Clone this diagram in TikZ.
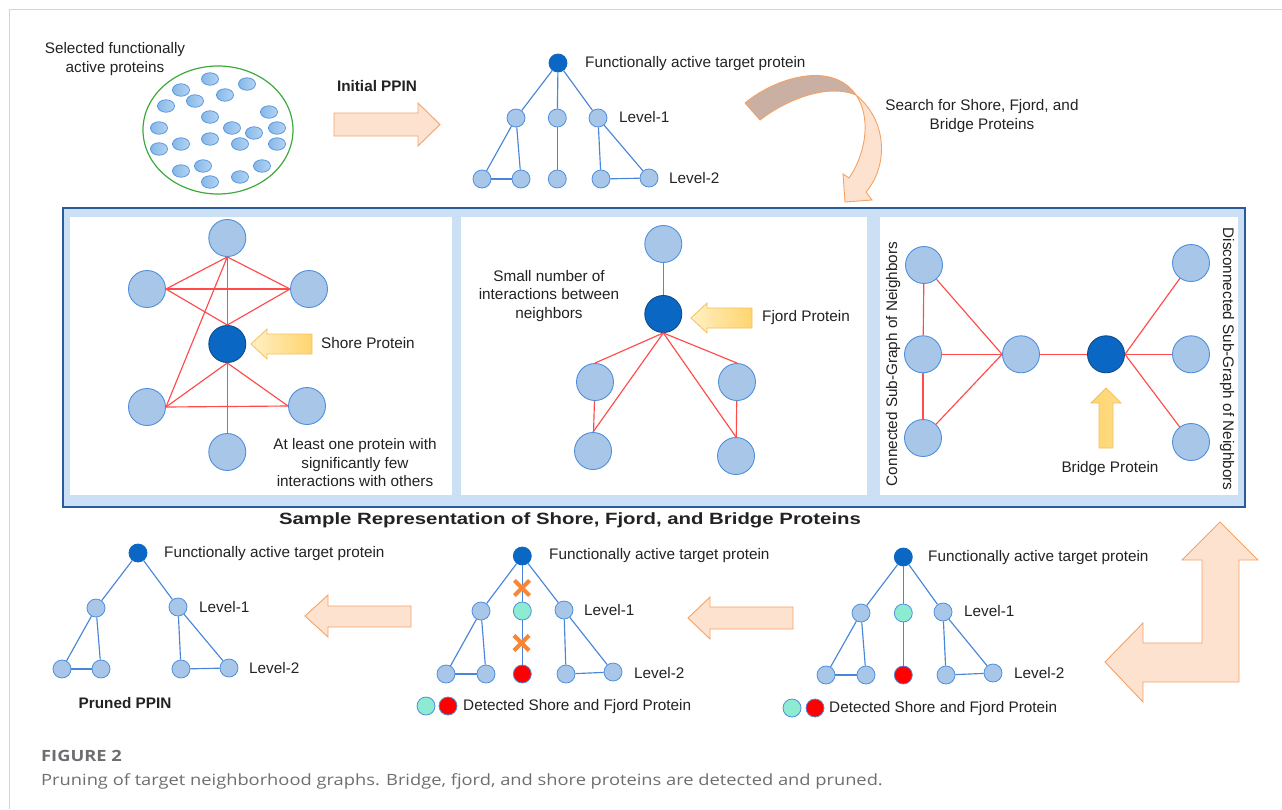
\documentclass[tikz,border=0pt]{standalone}
\usepackage{fontspec}
\setmainfont{Liberation Sans}
\newfontfamily\capfont[FakeStretch=1.18]{Open Sans}
\newfontfamily\widebold[FakeStretch=1.25]{Liberation Sans}
\usetikzlibrary{shapes.geometric,shapes.misc}
\definecolor{nodefill}{HTML}{A8C6E8}
\definecolor{nodeedge}{HTML}{4F8FDC}
\definecolor{darkfill}{HTML}{0A68C4}
\definecolor{darkedge}{HTML}{0C4A8A}
\definecolor{edgeblue}{HTML}{4A86D8}
\definecolor{edgered}{HTML}{FF4B4B}
\definecolor{peach}{HTML}{FDE2D0}
\definecolor{peachedge}{HTML}{F7A265}
\definecolor{brownish}{HTML}{C9B0A3}
\definecolor{yedge}{HTML}{F2C260}
\definecolor{ylight}{HTML}{FFF0C4}
\definecolor{ydark}{HTML}{FFD46E}
\definecolor{boxfill}{HTML}{CBE0F5}
\definecolor{boxedge}{HTML}{2A5A9A}
\definecolor{tealfill}{HTML}{8CEBD0}
\definecolor{ellgreen}{HTML}{3DAA3D}
\definecolor{smallL}{HTML}{86B8E8}
\definecolor{smallR}{HTML}{B4D3F2}
\definecolor{xorange}{HTML}{FA8532}
\definecolor{txt}{HTML}{222222}
\definecolor{capgray}{HTML}{6D6E71}
\definecolor{frame}{HTML}{D4D4D4}
\begin{document}
\begin{tikzpicture}[x=1pt,y=-1pt,
  lnode/.style={circle,draw=nodeedge,fill=nodefill,minimum size=18pt,inner sep=0pt,line width=0.8pt},
  dnode/.style={lnode,fill=darkfill,draw=darkfill},
  tnode/.style={lnode,fill=tealfill},
  rnode/.style={lnode,fill=red},
  bnode/.style={circle,draw=nodeedge,fill=nodefill,minimum size=37pt,inner sep=0pt,line width=0.9pt},
  bdark/.style={bnode,fill=darkfill,draw=darkedge},
  sprot/.style={ellipse,draw=nodeedge,left color=smallL,right color=smallR,minimum width=17pt,minimum height=12.5pt,inner sep=0pt,line width=0.7pt},
  tedge/.style={draw=edgeblue,line width=1.15pt},
  redge/.style={draw=edgered,line width=1.15pt},
  lbl/.style={font=\fontsize{15.3}{18}\selectfont,text=txt,inner sep=0pt,text height=11pt,text depth=3pt},
  blbl/.style={lbl,font=\fontsize{15.3}{18}\selectfont\bfseries},
  mlbl/.style={font=\fontsize{15.3}{18.5}\selectfont,text=txt,inner sep=0pt,align=center},
  barrow/.style={fill=peach,draw=peachedge,line width=0.9pt,line join=miter},
  yarrow/.style={draw=yedge,line width=0.8pt,left color=ylight,right color=ydark},
  xmk/.style={cross out,draw=xorange,line width=4.2pt,minimum size=11pt,inner sep=0pt}
]
\useasboundingbox (0,0) rectangle (1282,809);
% page frame lines
\draw[frame,line width=1pt] (9,809) -- (9,9) -- (1282,9);

% ---------------- top row ----------------
\node[mlbl] (seltxt) at (115,59) {Selected functionally\\active proteins};
\draw[ellgreen,line width=1.2pt] (218,130) ellipse [x radius=75, y radius=64];
\foreach \i/\p in {1/{(210,79)},2/{(247,84)},3/{(181,90)},4/{(195,101)},5/{(225,95)},6/{(166,106)},7/{(269,112)},8/{(210,117)},9/{(159,128)},10/{(232,128)},11/{(254,133)},12/{(277,128)},13/{(210,139)},14/{(181,144)},15/{(240,144)},16/{(277,144)},17/{(159,149)},18/{(203,166)},19/{(262,166)},20/{(181,171)},21/{(240,177)},22/{(210,182)}}
  \node[sprot] (sp\i) at \p {};

\node[blbl] (initppin) at (377,87) {Initial PPIN};
\draw[barrow] (334,113) -- (418,113) -- (418,103) -- (440,124.5) -- (418,146) -- (418,136) -- (334,136) -- cycle;

% top tree
\node[dnode] (ar) at (558,63) {};
\node[lnode] (a1) at (516,118) {};
\node[lnode] (a2) at (557.3,118) {};
\node[lnode] (a3) at (598,118) {};
\node[lnode] (b1) at (482,179) {};
\node[lnode] (b2) at (521,179) {};
\node[lnode] (b3) at (557.3,179) {};
\node[lnode] (b4) at (601,179) {};
\node[lnode] (b5) at (649,178) {};
\draw[tedge] (ar) -- (a1); \draw[tedge] (ar) -- (a2); \draw[tedge] (ar) -- (a3);
\draw[tedge] (a1) -- (b1); \draw[tedge] (a1) -- (b2); \draw[tedge] (a2) -- (b3);
\draw[tedge] (a3) -- (b4); \draw[tedge] (a3) -- (b5);
\draw[tedge] (b1) -- (b2); \draw[tedge] (b4) -- (b5);
\node[lbl,anchor=west] (atxt) at (585,63) {Functionally active target protein};
\node[lbl,anchor=west] (al1) at (619,118) {Level-1};
\node[lbl,anchor=west] (al2) at (669,179) {Level-2};

% curved arrow
\fill[brownish,draw=peachedge,line width=0.9pt,line join=round]
  (745,103) .. controls (775,78) and (832,60) .. (856,95)
  .. controls (830,84) and (790,97) .. (760,120) -- cycle;
\fill[peach,draw=peachedge,line width=0.9pt,line join=miter]
  (856,95) .. controls (887,120) and (889,165) .. (866,192)
  -- (872,200) -- (845,202) -- (843,174) -- (849,178)
  .. controls (868,150) and (870,115) .. (856,95) -- cycle;
\node[mlbl] (searchtxt) at (982,116) {Search for Shore, Fjord, and\\Bridge Proteins};

% ---------------- middle box ----------------
\draw[boxedge,fill=boxfill,line width=1.3pt] (63,208) rectangle (1245,507);
\fill[white] (70,217) rectangle (452,495);
\fill[white] (461,217) rectangle (867,495);
\fill[white] (880,217) rectangle (1238,495);

% panel 1 (shore)
\node[bnode] (p1t) at (227.3,238) {};
\node[bnode] (p1ul) at (147,289) {};
\node[bnode] (p1ur) at (309,289) {};
\node[bdark] (p1c) at (227.3,344) {};
\node[bnode] (p1ll) at (147,407) {};
\node[bnode] (p1lr) at (307,406) {};
\node[bnode] (p1b) at (227.3,452) {};
\draw[redge] (p1t.south) -- (p1ul.east);
\draw[redge] (p1t.south) -- (p1ur.west);
\draw[redge] (p1t.south) -- (p1c.north);
\draw[redge] (p1t.south) -- (p1ll.east);
\draw[redge] (p1ul.east) -- (p1ur.west);
\draw[redge] (p1ul.east) -- (p1c.north);
\draw[redge] (p1ur.west) -- (p1c.north);
\draw[redge] (p1c.south) -- (p1ll.east);
\draw[redge] (p1c.south) -- (p1lr.west);
\draw[redge] (p1ll.east) -- (p1lr.west);
\draw[redge] (p1c.south) -- (p1b.north);
\draw[yarrow] (251,344) -- (267,329) -- (267,334) -- (312,334) -- (312,354) -- (267,354) -- (267,359) -- cycle;
\node[lbl,anchor=west] (shoretxt) at (321,344) {Shore Protein};
\node[mlbl] (atleast) at (355,463) {At least one protein with\\significantly few\\interactions with others};

% panel 2 (fjord)
\node[bnode] (p2t) at (663.3,244) {};
\node[bdark] (p2c) at (663.3,314) {};
\node[bnode] (p2ml) at (595,382) {};
\node[bnode] (p2mr) at (737,382) {};
\node[bnode] (p2bl) at (593,451) {};
\node[bnode] (p2br) at (736,456) {};
\draw[redge] (p2t) -- (p2c);
\draw[redge] (p2c.south) -- (p2ml.north);
\draw[redge] (p2c.south) -- (p2bl.north);
\draw[redge] (p2c.south) -- (p2mr.north);
\draw[redge] (p2c.south) -- (p2br.north);
\draw[redge] (p2ml) -- (p2bl);
\draw[redge] (p2mr) -- (p2br);
\draw[yarrow] (691,318) -- (707,303) -- (707,308) -- (752,308) -- (752,328) -- (707,328) -- (707,333) -- cycle;
\node[lbl,anchor=west] (fjordtxt) at (762,317) {Fjord Protein};
\node[mlbl] (smallnum) at (549,296) {Small number of\\interactions between\\neighbors};

% panel 3 (bridge)
\node[bnode] (p3lt) at (924,265) {};
\node[bnode] (p3lm) at (923,354.3) {};
\node[bnode] (p3lb) at (923,438) {};
\node[bnode] (p3m) at (1021,354.3) {};
\node[bdark] (p3b) at (1106,354.3) {};
\node[bnode] (p3rt) at (1191,263) {};
\node[bnode] (p3rm) at (1191,354.3) {};
\node[bnode] (p3rb) at (1191,442) {};
\draw[redge] (p3lt) -- (p3lm);
\draw[redge] (p3lm) -- (p3lb);
\draw[redge] (p3lt) -- (p3m.west);
\draw[redge] (p3lm.east) -- (p3m.west);
\draw[redge] (p3lb) -- (p3m.west);
\draw[redge] (p3m) -- (p3b);
\draw[redge] (p3b.east) -- (p3rt);
\draw[redge] (p3b.east) -- (p3rm);
\draw[redge] (p3b.east) -- (p3rb);
\draw[yarrow,left color=ydark,right color=ydark!70!ylight] (1106,388) -- (1121,403) -- (1113,403) -- (1113,448) -- (1099,448) -- (1099,403) -- (1091,403) -- cycle;
\node[lbl] (bridgetxt) at (1110,468) {Bridge Protein};
\node[lbl,rotate=90] (conntxt) at (893,364) {Connected Sub-Graph of Neighbors};
\node[lbl,rotate=-90] (disctxt) at (1227,359) {Disconnected Sub-Graph of Neighbors};

\node[lbl,font=\widebold\fontsize{16.3}{19}\selectfont\bfseries] (sampletxt) at (570,520) {Sample Representation of Shore, Fjord, and Bridge Proteins};

% ---------------- bottom row ----------------
% right tree (detected)
\node[dnode] (rr) at (903.3,557) {};
\node[lnode] (r1) at (861,613) {};
\node[tnode] (r2) at (903.3,613) {};
\node[lnode] (r3) at (943,612) {};
\node[lnode] (s1) at (826,675) {};
\node[lnode] (s2) at (866,675) {};
\node[rnode] (s3) at (903.3,675) {};
\node[lnode] (s4) at (946,675) {};
\node[lnode] (s5) at (993,673) {};
\draw[tedge] (rr) -- (r1); \draw[tedge] (rr) -- (r2); \draw[tedge] (rr) -- (r3);
\draw[tedge] (r1) -- (s1); \draw[tedge] (r1) -- (s2); \draw[tedge] (r2) -- (s3);
\draw[tedge] (r3) -- (s4); \draw[tedge] (r3) -- (s5);
\draw[tedge] (s1) -- (s2); \draw[tedge] (s4) -- (s5);
\node[lbl,anchor=west] (rtxt) at (928,557) {Functionally active target protein};
\node[lbl,anchor=west] (rl1) at (964,612) {Level-1};
\node[lbl,anchor=west] (rl2) at (1014,674) {Level-2};
\node[tnode] (rlegt) at (792,708) {};
\node[rnode] (rlegr) at (815,708) {};
\node[lbl,anchor=west] (rlegtxt) at (829,708) {Detected Shore and Fjord Protein};

% L-shaped arrow
\draw[barrow] (1220,522) -- (1258,560) -- (1239,560) -- (1239,682) -- (1143,682) -- (1143,702) -- (1105,662) -- (1143,623) -- (1143,643) -- (1202,643) -- (1202,560) -- (1182,560) -- cycle;

% middle tree (pruning)
\node[dnode] (mr) at (522.3,556) {};
\node[lnode] (m1) at (481,611) {};
\node[tnode] (m2) at (522.3,611) {};
\node[lnode] (m3) at (564,610) {};
\node[lnode] (n1) at (446,674) {};
\node[lnode] (n2) at (486,674) {};
\node[rnode] (n3) at (522.3,674) {};
\node[lnode] (n4) at (566,674) {};
\node[lnode] (n5) at (613,672) {};
\draw[tedge] (mr) -- (m1); \draw[tedge] (mr) -- (m2); \draw[tedge] (mr) -- (m3);
\draw[tedge] (m1) -- (n1); \draw[tedge] (m1) -- (n2); \draw[tedge] (m2) -- (n3);
\draw[tedge] (m3) -- (n4); \draw[tedge] (m3) -- (n5);
\draw[tedge] (n1) -- (n2); \draw[tedge] (n4) -- (n5);
\node[xmk] (x1) at (522,588) {};
\node[xmk] (x2) at (521.5,643) {};
\node[lbl,anchor=west] (mtxt) at (549,555) {Functionally active target protein};
\node[lbl,anchor=west] (ml1) at (584,611) {Level-1};
\node[lbl,anchor=west] (ml2) at (634,674) {Level-2};
\node[tnode] (mlegt) at (426,706) {};
\node[rnode] (mlegr) at (448,706) {};
\node[lbl,anchor=west] (mlegtxt) at (463,706) {Detected Shore and Fjord Protein};

\draw[barrow] (688,618) -- (710,597) -- (710,607) -- (793,607) -- (793,629) -- (710,629) -- (710,639) -- cycle;

% left tree (pruned)
\node[dnode] (lr) at (138,553) {};
\node[lnode] (l1) at (96,608) {};
\node[lnode] (l2) at (178,607) {};
\node[lnode] (k1) at (62,669) {};
\node[lnode] (k2) at (101,669) {};
\node[lnode] (k3) at (181,669) {};
\node[lnode] (k4) at (229,668) {};
\draw[tedge] (lr) -- (l1); \draw[tedge] (lr) -- (l2);
\draw[tedge] (l1) -- (k1); \draw[tedge] (l1) -- (k2);
\draw[tedge] (l2) -- (k3); \draw[tedge] (l2) -- (k4);
\draw[tedge] (k1) -- (k2); \draw[tedge] (k3) -- (k4);
\node[lbl,anchor=west] (ltxt) at (164,553) {Functionally active target protein};
\node[lbl,anchor=west] (ll1) at (199,608) {Level-1};
\node[lbl,anchor=west] (ll2) at (249,669) {Level-2};
\node[blbl] (prunedtxt) at (125,704) {Pruned PPIN};

\draw[barrow] (305,616) -- (328,595) -- (328,606) -- (411,606) -- (411,627) -- (328,627) -- (328,637) -- cycle;

% ---------------- caption ----------------
\node[anchor=west,inner sep=0pt,text=capgray,font=\capfont\fontsize{15.5}{18}\selectfont\bfseries] (figlbl) at (41,756) {FIGURE 2};
\node[anchor=west,inner sep=0pt,text=capgray,font=\capfont\fontsize{15.5}{18}\selectfont] (captxt) at (41,781) {Pruning of target neighborhood graphs. Bridge, fjord, and shore proteins are detected and pruned.};
\end{tikzpicture}
\end{document}
